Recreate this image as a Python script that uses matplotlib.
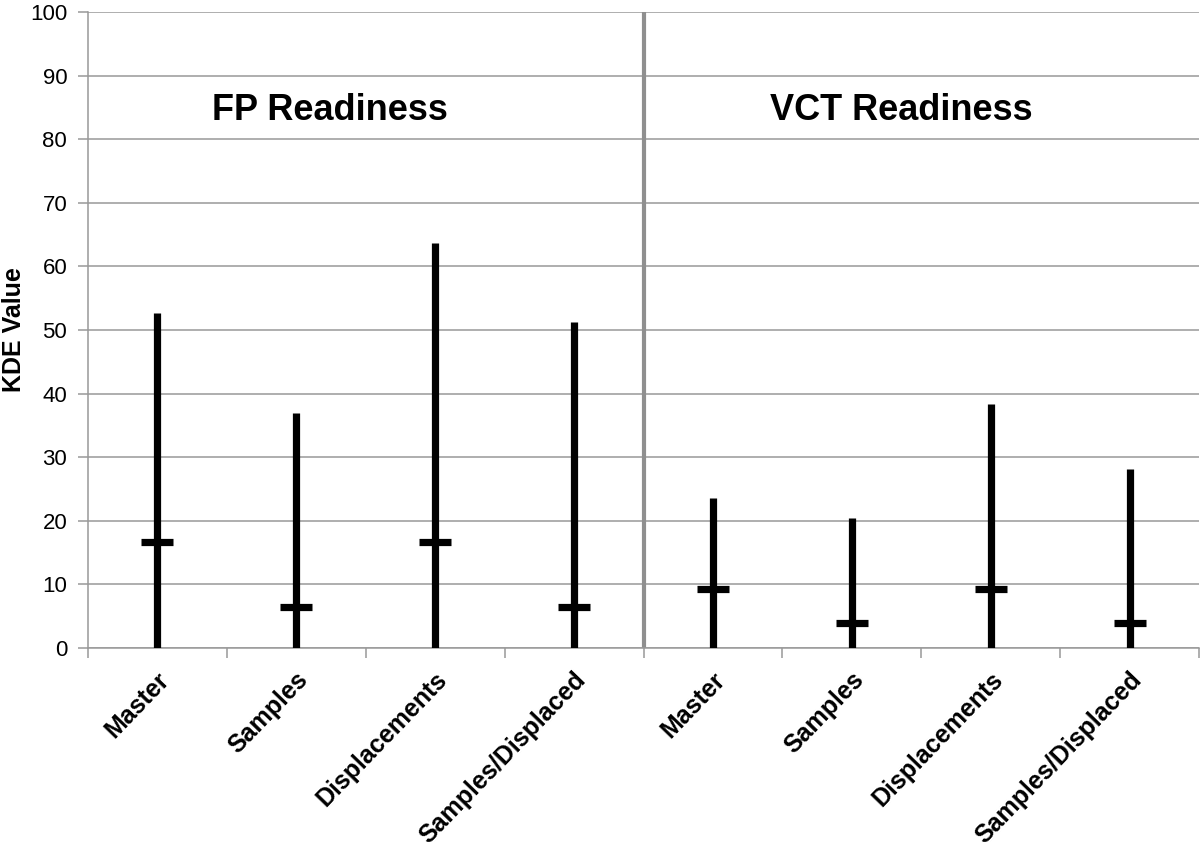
import matplotlib.pyplot as plt
import matplotlib.transforms as mtransforms
import numpy as np

plt.rcParams['font.family'] = ['Liberation Sans', 'DejaVu Sans']

# data
categories = ['Master', 'Samples', 'Displacements', 'Samples/Displaced',
              'Master', 'Samples', 'Displacements', 'Samples/Displaced']
low_vals = [0, 0, 0, 0, 0, 0, 0, 0]
high_vals = [52.6, 36.9, 63.7, 51.2, 23.6, 20.4, 38.3, 28.2]
mid_vals = [16.7, 6.5, 16.7, 6.5, 9.3, 3.9, 9.3, 4.0]
group_titles = ['FP Readiness', 'VCT Readiness']

grid_col = '#999999'

fig = plt.figure(figsize=(12, 8.42), dpi=100)
ax = fig.add_axes([88 / 1200, 1 - 648 / 842, 1111 / 1200, 636 / 842])

x = np.arange(len(categories))
ax.set_xlim(-0.5, len(categories) - 0.5)
ax.set_ylim(0, 100)

# gridlines
ax.set_yticks(np.arange(0, 101, 10))
ax.yaxis.grid(True, color=grid_col, linewidth=1.1)
ax.set_axisbelow(True)

# high-low lines and middle dash
ax.vlines(x, low_vals, high_vals, color='black', linewidth=5.2, capstyle='butt', zorder=3)
ax.plot(x, mid_vals, linestyle='none', marker='_', markersize=22.5,
        markeredgewidth=5.2, color='black', zorder=4)

# separator between the two groups
ax.axvline(3.5, color='#8f8f8f', linewidth=3, zorder=2)

for sp in ['top', 'right']:
    ax.spines[sp].set_visible(False)
for sp in ['left', 'bottom']:
    ax.spines[sp].set_color(grid_col)
    ax.spines[sp].set_linewidth(1.1)

# category boundary ticks
ax.set_xticks(np.arange(-0.5, len(categories), 1.0))
ax.set_xticklabels([])
ax.tick_params(axis='x', which='major', length=7, color=grid_col, width=1.1)
ax.set_xticks(x, minor=True)
ax.set_xticklabels(categories, minor=True, rotation=46, ha='right', va='center',
                   rotation_mode='anchor', fontsize=18, fontweight='bold')
ax.tick_params(axis='x', which='minor', length=0, pad=20)
offset = mtransforms.ScaledTranslation(8 / 100, 0, fig.dpi_scale_trans)
for lbl in ax.xaxis.get_minorticklabels():
    lbl.set_transform(lbl.get_transform() + offset)

ax.tick_params(axis='y', length=7, color=grid_col, width=1.1, labelsize=16, pad=8)
ax.set_ylabel('KDE Value', fontsize=18, fontweight='bold')
ax.yaxis.set_label_coords(-62 / 1111, 0.5)

ax.text(1.24, 83.0, group_titles[0], ha='center', va='baseline',
        fontsize=26, fontweight='bold')
ax.text(5.36, 83.0, group_titles[1], ha='center', va='baseline',
        fontsize=26, fontweight='bold')

fig.savefig('out.png', dpi=100)
